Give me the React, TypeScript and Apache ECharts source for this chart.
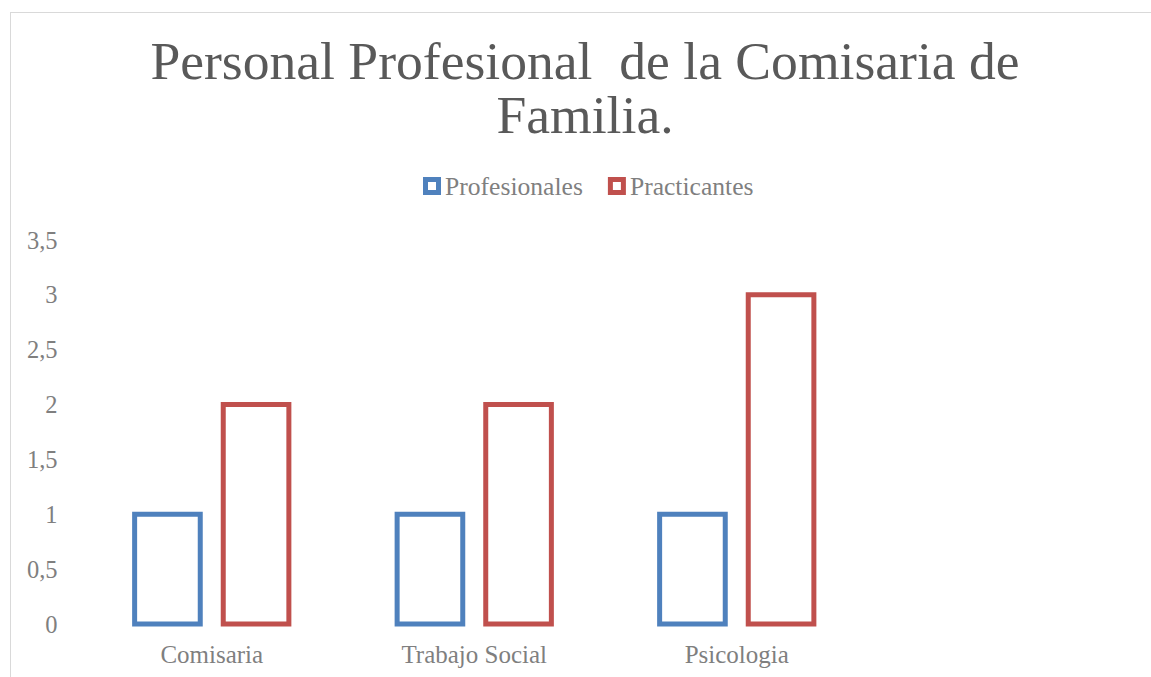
import React, { useEffect, useRef } from "react";
import * as echarts from "echarts";

const categories = ["Comisaria", "Trabajo Social", "Psicologia", ""];
const profesionales = [1, 1, 1, null];
const practicantes = [2, 2, 3, null];
const seriesNames = ["Profesionales", "Practicantes"];
const seriesColors = ["#4F81BD", "#C0504D"];
const yTicks = { min: 0, max: 3.5, interval: 0.5 };

const FONT = "'Liberation Serif', 'DejaVu Serif', serif";
const ICON = "path://M0,0H18V18H0Z M5,5V13H13V5Z";

function makeSeries(name: string, values: (number | null)[], color: string, side: number) {
  const data = values
    .map((v, i) => (v === null ? null : [i, v]))
    .filter((d) => d !== null);
  return {
    name,
    type: "custom",
    data,
    encode: { x: 0, y: 1 },
    renderItem: (params: any, api: any) => {
      const cat = api.value(0);
      const val = api.value(1);
      const top = api.coord([cat, val]);
      const base = api.coord([cat, 0]);
      const band = api.size([1, 0])[0];
      const w = band * 0.25;
      const cx = top[0] + side * band * 0.1688;
      return {
        type: "rect",
        shape: { x: cx - w / 2, y: top[1], width: w, height: base[1] - top[1] },
        style: { fill: "#ffffff", stroke: color, lineWidth: 5 },
      };
    },
  };
}

export default function App() {
  const ref = useRef<HTMLDivElement>(null);
  useEffect(() => {
    if (!ref.current) return;
    const chart = echarts.init(ref.current, null, { renderer: "svg" });
    chart.setOption({
      animation: false,
      backgroundColor: "#ffffff",
      title: {
        text: "Personal Profesional  de la Comisaria de\nFamilia.",
        left: "center",
        top: 21,
        padding: 0,
        textStyle: {
          fontFamily: FONT,
          fontSize: 53.6,
          fontWeight: "normal",
          color: "#595959",
          lineHeight: 54,
        },
      },
      legend: {
        data: seriesNames.map((n, i) => ({
          name: n,
          icon: ICON,
          itemStyle: { color: seriesColors[i], borderWidth: 0 },
        })),
        top: 160,
        left: 412,
        padding: 0,
        itemWidth: 18,
        itemHeight: 18,
        itemGap: 25,
        textStyle: { fontFamily: FONT, fontSize: 25.6, color: "#7f7f7f", padding: [0, 0, 0, -1] },
      },
      grid: { left: 69.5, right: 28.5, top: 227, bottom: 53, containLabel: false },
      xAxis: {
        type: "category",
        data: categories,
        axisLine: { show: false },
        axisTick: { show: false },
        axisLabel: { fontFamily: FONT, fontSize: 25, color: "#7f7f7f", margin: 18 },
      },
      yAxis: {
        type: "value",
        min: yTicks.min,
        max: yTicks.max,
        interval: yTicks.interval,
        axisLine: { show: false },
        axisTick: { show: false },
        splitLine: { show: false },
        axisLabel: {
          fontFamily: FONT,
          fontSize: 24.5,
          color: "#7f7f7f",
          margin: 23,
          formatter: (v: number) => String(v).replace(".", ","),
        },
      },
      series: [
        makeSeries(seriesNames[0], profesionales, seriesColors[0], -1),
        makeSeries(seriesNames[1], practicantes, seriesColors[1], 1),
      ],
    });
    return () => chart.dispose();
  }, []);

  return (
    <div
      style={{
        position: "fixed",
        left: 0,
        top: 0,
        width: "100vw",
        height: "100vh",
        overflow: "hidden",
        background: "#ffffff",
      }}
    >
      <div
        style={{
          position: "absolute",
          left: 10,
          top: 12,
          width: 1160,
          height: 700,
          borderLeft: "1px solid #d9d9d9",
          borderTop: "1px solid #d9d9d9",
        }}
      />
      <div
        ref={ref}
        style={{ position: "absolute", left: 11, top: 13, width: 1148, height: 664 }}
      />
    </div>
  );
}
